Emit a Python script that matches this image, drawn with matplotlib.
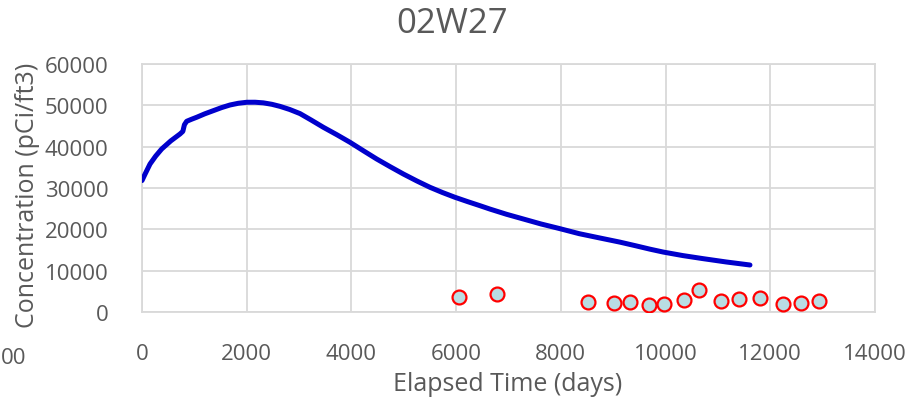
import matplotlib
matplotlib.use("Agg")
import matplotlib.pyplot as plt

plt.rcParams['font.family'] = ['Open Sans', 'DejaVu Sans']

title = "02W27"
x_label = "Elapsed Time (days)"
y_label = "Concentration (pCi/ft3)"

# model curve
model_days = [0, 60, 153, 260, 376, 550, 726, 780, 810, 853, 950, 1044, 1200,
              1362, 1520, 1680, 1840, 2000, 2160, 2318, 2480, 2636, 2820,
              3018, 3230, 3463, 3720, 3972, 4230, 4482, 4740, 4991, 5250,
              5500, 5740, 5978, 6220, 6455, 6646, 6960, 7283, 7620, 7970,
              8350, 8747, 9129, 9420, 9702, 9956, 10330, 10720, 11160, 11612]
model_conc = [31800, 33400, 35800, 37700, 39440, 41400, 43070, 43700, 45300,
              46140, 46650, 47110, 47950, 48710, 49450, 50080, 50500, 50740,
              50750, 50600, 50250, 49750, 49000, 48000, 46450, 44690, 42900,
              41060, 39000, 37020, 35150, 33390, 31700, 30170, 28900, 27750,
              26700, 25720, 24900, 23650, 22500, 21300, 20200, 18950, 17900,
              16900, 16050, 15200, 14500, 13650, 12900, 12100, 11370]

# observations
obs_days = [6060, 6786, 8512, 9020, 9326, 9683, 9964, 10346, 10644, 11058,
            11408, 11809, 12248, 12580, 12935]
obs_conc = [3700, 4350, 2490, 2250, 2420, 1770, 1860, 2830, 5250, 2660,
            3150, 3390, 1860, 2250, 2590]

x_ticks = [0, 2000, 4000, 6000, 8000, 10000, 12000, 14000]
y_ticks = [0, 10000, 20000, 30000, 40000, 50000, 60000]

text_color = "#595959"
grid_color = "#D9D9D9"

fig = plt.figure(figsize=(9.21, 4.06), dpi=100)
ax = fig.add_axes([142/921, 1-313/406, (875-142)/921, (313-65)/406])

ax.plot(model_days, model_conc, color="#0000CC", lw=3.6, solid_capstyle='round',
        solid_joinstyle='round', zorder=3)
ax.plot(obs_days, obs_conc, linestyle='none', marker='o', markersize=10,
        markerfacecolor="#B9DDE3", markeredgecolor="#FF0000", markeredgewidth=1.6,
        zorder=4)

ax.set_xlim(0, 14000)
ax.set_ylim(0, 60000)
ax.set_xticks(x_ticks)
ax.set_yticks(y_ticks)
ax.set_xticklabels([str(v) for v in x_ticks])
ax.set_yticklabels([str(v) for v in y_ticks])
ax.tick_params(axis='both', length=0, labelsize=16, colors=text_color)
ax.tick_params(axis='x', pad=22)
ax.tick_params(axis='y', pad=24)
ax.grid(True, color=grid_color, lw=1.3)
ax.set_axisbelow(True)
for s in ax.spines.values():
    s.set_color(grid_color)
    s.set_linewidth(1.3)

fig.text(508/921, 1-385/406, x_label, fontsize=18, color=text_color,
         ha='center', va='center')
fig.text(28/921, 1-195/406, y_label, rotation=90, fontsize=18, color=text_color,
         ha='center', va='center')
fig.text(452/921, 1-24/406, title, fontsize=25, color=text_color, ha='center',
         va='center')
fig.text(1/921, 1-359/406, "00", fontsize=16, color=text_color, ha='left',
         va='center')

fig.savefig("out.png", dpi=100, facecolor='white')
